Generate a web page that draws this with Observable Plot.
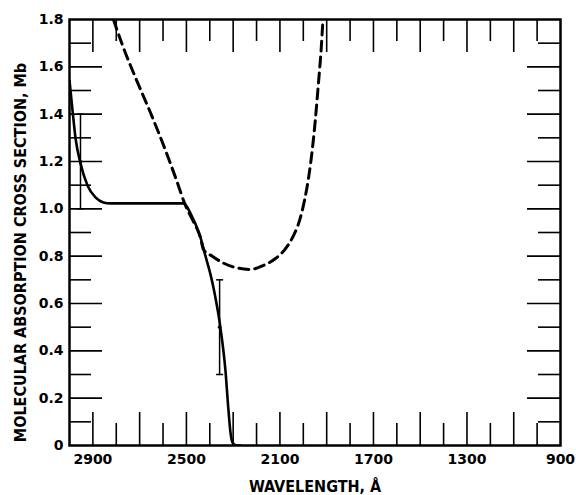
<!DOCTYPE html>
<html>
<head>
<meta charset="utf-8">
<script src="https://cdn.jsdelivr.net/npm/d3@7"></script>
<script src="https://cdn.jsdelivr.net/npm/@observablehq/plot@0.6"></script>
<style>
  html, body { margin: 0; padding: 0; background: #fff; }
  #chart svg { display: block; }
</style>
</head>
<body>
<div id="chart"></div>
<script>
// ---- data ----
const solidLambda = [3000, 2987, 2974, 2953, 2923, 2889, 2855, 2825, 2512, 2482, 2440, 2418, 2397, 2380, 2354, 2333, 2320, 2311, 2303, 2286, 2269];
const solidValue  = [1.542, 1.415, 1.297, 1.192, 1.099, 1.048, 1.027, 1.023, 1.023, 0.980, 0.879, 0.799, 0.723, 0.646, 0.494, 0.317, 0.148, 0.051, 0.013, 0.0, 0.0];

const dashedLambda = [2812, 2773, 2718, 2654, 2589, 2542, 2504, 2470, 2440, 2427, 2388, 2346, 2290, 2226, 2170, 2119, 2076, 2042, 2016, 1995, 1978, 1961, 1948, 1935, 1924, 1916];
const dashedValue  = [1.80, 1.690, 1.555, 1.407, 1.246, 1.120, 1.014, 0.946, 0.879, 0.828, 0.799, 0.773, 0.752, 0.744, 0.761, 0.790, 0.832, 0.887, 0.951, 1.035, 1.128, 1.255, 1.382, 1.534, 1.669, 1.80];

const errLambda = [2953, 2358];
const errLow    = [1.0, 0.3];
const errHigh   = [1.4, 0.7];
const errMid    = [1.2, 0.5];

const xLabelTicks = [2900, 2500, 2100, 1700, 1300, 900];
const xTickLabels = ["2900", "2500", "2100", "1700", "1300", "900"];
const xMajorTicks = [2900, 2700, 2500, 2300, 2100, 1900, 1700, 1500, 1300, 1100];
const xMinorTicks = [2800, 2600, 2400, 2200, 2000, 1800, 1600, 1400, 1200, 1000];

const yLabelTicks = [0, 0.2, 0.4, 0.6, 0.8, 1.0, 1.2, 1.4, 1.6, 1.8];
const yTickLabels = ["0", "0.2", "0.4", "0.6", "0.8", "1.0", "1.2", "1.4", "1.6", "1.8"];
const yMajorTicks = [0.2, 0.4, 0.6, 0.8, 1.0, 1.2, 1.4, 1.6];
const yMinorTicks = [0.1, 0.3, 0.5, 0.7, 0.9, 1.1, 1.3, 1.5, 1.7];

const xTitle = ["WAVELENGTH, Å"];
const yTitle = ["MOLECULAR ABSORPTION CROSS SECTION, Mb"];

// ---- layout ----
const W = 576, H = 495, mL = 69, mR = 16, mT = 19, mB = 50;
const innerW = W - mL - mR, innerH = H - mT - mB;
const LONG = 33, SHORT = 22;
const titleFont = "'DejaVu Sans Condensed', 'DejaVu Sans', sans-serif";

const solid = solidLambda.map((x, i) => ({x, y: solidValue[i]}));
const dashed = dashedLambda.map((x, i) => ({x, y: dashedValue[i]}));
const errs = errLambda.map((x, i) => ({x, lo: errLow[i], hi: errHigh[i], mid: errMid[i]}));
const caps = errs.flatMap(d => [{x: d.x, y: d.lo}, {x: d.x, y: d.hi}]);

const capSymbol = {
  draw(ctx, size) {
    const w = Math.sqrt(size) / 2;
    ctx.moveTo(-w, 0);
    ctx.lineTo(w, 0);
  }
};

const tickStyle = {stroke: "black", strokeWidth: 1.6};

const chart = Plot.plot({
  width: W,
  height: H,
  marginLeft: mL,
  marginRight: mR,
  marginTop: mT,
  marginBottom: mB,
  x: {domain: [3000, 900]},
  y: {domain: [0, 1.8]},
  style: {fontFamily: "'DejaVu Sans', sans-serif", fontWeight: "bold", color: "black", background: "white", overflow: "visible"},
  marks: [
    // inward ticks on all four sides
    Plot.ruleX(xMajorTicks, {x: d => d, insetTop: innerH - LONG, ...tickStyle}),
    Plot.ruleX(xMinorTicks, {x: d => d, insetTop: innerH - SHORT, ...tickStyle}),
    Plot.ruleX(xMajorTicks, {x: d => d, insetBottom: innerH - LONG, ...tickStyle}),
    Plot.ruleX(xMinorTicks, {x: d => d, insetBottom: innerH - SHORT, ...tickStyle}),
    Plot.ruleY(yMajorTicks, {y: d => d, insetRight: innerW - LONG, ...tickStyle}),
    Plot.ruleY(yMinorTicks, {y: d => d, insetRight: innerW - SHORT, ...tickStyle}),
    Plot.ruleY(yMajorTicks, {y: d => d, insetLeft: innerW - LONG, ...tickStyle}),
    Plot.ruleY(yMinorTicks, {y: d => d, insetLeft: innerW - SHORT, ...tickStyle}),
    // tick labels
    Plot.axisX(xLabelTicks, {
      anchor: "bottom", tickSize: 0, tickPadding: 9, label: null,
      tickFormat: d => xTickLabels[xLabelTicks.indexOf(d)],
      fontSize: 14, fontWeight: "bold"
    }),
    Plot.axisY(yLabelTicks, {
      anchor: "left", tickSize: 0, tickPadding: 6, label: null,
      tickFormat: d => yTickLabels[yLabelTicks.indexOf(d)],
      fontSize: 14, fontWeight: "bold"
    }),
    // axis titles
    Plot.text(xTitle, {
      text: d => d, frameAnchor: "bottom", dy: 41, lineAnchor: "middle", textAnchor: "middle",
      fontSize: 16, fontWeight: "bold", fontFamily: titleFont, fill: "black"
    }),
    Plot.text(yTitle, {
      text: d => d, frameAnchor: "left", dx: -49, dy: 20, rotate: -90,
      lineAnchor: "middle", textAnchor: "middle",
      fontSize: 16, fontWeight: "bold", fontFamily: titleFont, fill: "black"
    }),
    // curves
    Plot.line(dashed, {x: "x", y: "y", curve: "monotone-x", stroke: "black", strokeWidth: 3, strokeDasharray: "10,6", clip: true}),
    Plot.line(solid, {x: "x", y: "y", curve: "monotone-x", stroke: "black", strokeWidth: 2.6, clip: true}),
    // error bars
    Plot.ruleX(errs, {x: "x", y1: "lo", y2: "hi", stroke: "black", strokeWidth: 1.5}),
    Plot.dot(caps, {x: "x", y: "y", symbol: capSymbol, r: 4, stroke: "black", fill: "none", strokeWidth: 1.5}),
    Plot.dot(errs, {x: "x", y: "mid", r: 1.8, fill: "black", stroke: "none"}),
    Plot.frame({stroke: "black", strokeWidth: 2.5})
  ]
});

document.getElementById("chart").appendChild(chart);
</script>
</body>
</html>
